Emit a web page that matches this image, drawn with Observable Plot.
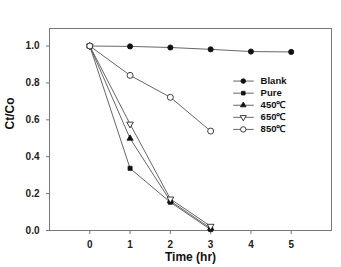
<!DOCTYPE html>
<html>
<head>
<meta charset="utf-8">
<script src="https://cdn.jsdelivr.net/npm/d3@7"></script>
<script src="https://cdn.jsdelivr.net/npm/@observablehq/plot@0.6"></script>
<style>
  html, body { margin: 0; padding: 0; background: #fff; }
  #chart svg { display: block; }
</style>
</head>
<body>
<div id="chart"></div>
<script>
// Photocatalytic degradation: relative concentration Ct/Co over time
const times = [0, 1, 2, 3, 4, 5];
const blank = [1.0, 0.998, 0.992, 0.982, 0.970, 0.968];
const pure = [1.0, 0.337, 0.153, 0.005];
const t450 = [1.0, 0.499, 0.160, 0.012];
const t650 = [1.0, 0.577, 0.171, 0.023];
const t850 = [1.0, 0.841, 0.722, 0.539];
const seriesNames = ["Blank", "Pure", "450\u2103", "650\u2103", "850\u2103"];
const xTicks = [0, 1, 2, 3, 4, 5];
const yTicks = [0, 0.2, 0.4, 0.6, 0.8, 1.0];

// downward-pointing triangle symbol
const triangleDown = {
  draw(context, size) {
    const s = Math.sqrt(size / 0.433);
    const h = s * Math.sqrt(3) / 2;
    context.moveTo(0, h * 2 / 3);
    context.lineTo(s / 2, -h / 3);
    context.lineTo(-s / 2, -h / 3);
    context.closePath();
  }
};

const seriesValues = [blank, pure, t450, t650, t850];
const styles = [
  {symbol: "circle", fill: "#111", r: 2.6},
  {symbol: "square", fill: "#111", r: 2.3},
  {symbol: "triangle", fill: "#111", r: 2.3},
  {symbol: triangleDown, fill: "white", r: 2.5},
  {symbol: "circle", fill: "white", r: 3}
];

const rows = [];
seriesNames.forEach((name, i) => {
  seriesValues[i].forEach((v, j) => rows.push({series: name, idx: i, t: times[j], v}));
});

// legend entries placed in the upper right of the plot area
const legend = seriesNames.map((name, i) => ({name, idx: i, y: 0.81 - i * 0.0655}));

const lineColor = "#555";
const marks = [
  Plot.frame({stroke: "#777", strokeWidth: 1}),
  Plot.axisX({ticks: xTicks, tickSize: 4, tickPadding: 6, tickFormat: d3.format("d"), label: null, stroke: "#777", fill: "#222"}),
  Plot.axisY({ticks: yTicks, tickSize: 3, tickPadding: 7, tickFormat: d3.format(".1f"), label: null, stroke: "#777", fill: "#222"}),
  Plot.text(["Time (hr)"], {frameAnchor: "bottom", dy: 30, fontSize: 12, fontWeight: "bold", fill: "#111"}),
  Plot.text(["Ct/Co"], {frameAnchor: "left", dx: -39, rotate: -90, fontSize: 12, fontWeight: "bold", fill: "#111"})
];

seriesNames.forEach((name, i) => {
  const data = rows.filter(d => d.idx === i);
  marks.push(Plot.line(data, {x: "t", y: "v", stroke: lineColor, strokeWidth: 0.9}));
});
seriesNames.forEach((name, i) => {
  const data = rows.filter(d => d.idx === i);
  const st = styles[i];
  marks.push(Plot.dot(data, {x: "t", y: "v", symbol: () => st.symbol, r: st.r, fill: st.fill, stroke: "#111", strokeWidth: 0.8}));
});

// legend
legend.forEach(d => {
  const st = styles[d.idx];
  marks.push(Plot.line([{x: 3.57, y: d.y}, {x: 4.06, y: d.y}], {x: "x", y: "y", stroke: lineColor, strokeWidth: 0.9}));
  marks.push(Plot.dot([d], {x: () => 3.81, y: "y", symbol: () => st.symbol, r: st.r * 0.9, fill: st.fill, stroke: "#111", strokeWidth: 0.8}));
  marks.push(Plot.text([d], {x: () => 4.24, y: "y", text: "name", textAnchor: "start", fontSize: 9.5, fontWeight: "bold", fill: "#111"}));
});

const chart = Plot.plot({
  width: 341,
  height: 267,
  marginLeft: 49,
  marginRight: 10,
  marginTop: 28,
  marginBottom: 37,
  style: {fontFamily: "'Liberation Sans', Arial, sans-serif", fontSize: "10px", fontWeight: "bold", background: "white", overflow: "visible"},
  x: {domain: [-1, 6]},
  y: {domain: [0, 1.095]},
  symbol: {type: "identity"},
  marks
});
document.getElementById("chart").appendChild(chart);
</script>
</body>
</html>
